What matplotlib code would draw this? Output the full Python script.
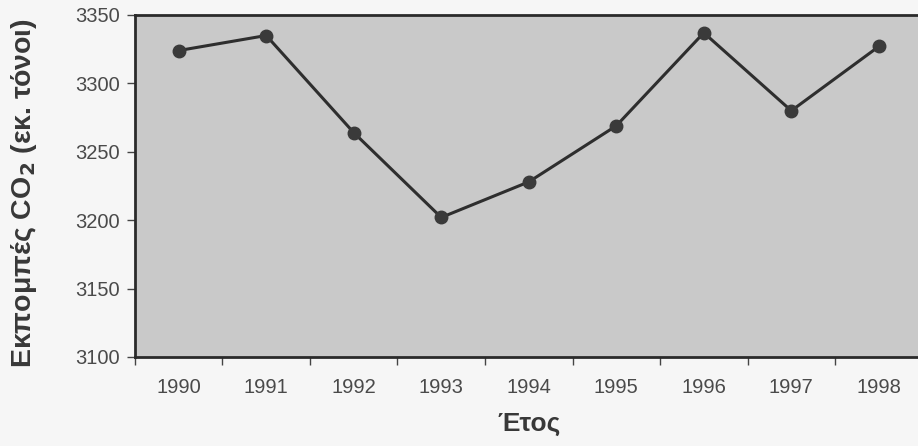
import numpy as np
import matplotlib.pyplot as plt

plt.rcParams["font.family"] = ["Liberation Sans", "DejaVu Sans"]

years = ["1990", "1991", "1992", "1993", "1994", "1995", "1996", "1997", "1998"]
co2 = [3324, 3335, 3264, 3202, 3228, 3269, 3337, 3280, 3327]   # million tonnes

fig = plt.figure(figsize=(9.18, 4.46), dpi=100, facecolor="#f6f6f6")
ax = fig.add_axes([0.147, 0.1996, 0.858, 0.7668])
ax.set_facecolor("#c9c9c9")

x = np.arange(len(years))
ax.plot(x, co2, color="#2e2e2e", lw=2.2, marker="o", ms=9,
        mfc="#3a3a3a", mec="#3a3a3a", zorder=3)

ax.set_xlim(-0.5, len(years) - 0.5)
ax.set_ylim(3100, 3350)
ax.set_yticks(np.arange(3100, 3351, 50))

# category labels centred, tick marks on the boundaries
ax.set_xticks(x)
ax.set_xticklabels(years)
ax.set_xticks(np.arange(-0.5, len(years), 1), minor=True)
ax.tick_params(axis="x", which="major", length=0, pad=15,
               labelsize=14.5, labelcolor="#4a4a4a")
ax.tick_params(axis="x", which="minor", length=6, width=1, color="#444444",
               direction="out")
ax.tick_params(axis="y", length=6, width=1, color="#444444", pad=5,
               labelsize=14.5, labelcolor="#4a4a4a")

for side in ["left", "bottom", "top"]:
    ax.spines[side].set_linewidth(2)
    ax.spines[side].set_color("#2a2a2a")
ax.spines["right"].set_visible(False)

ax.set_ylabel("Εκπομπές CO$_\\mathbf{2}$ (εκ. τόνοι)", fontsize=20.5,
              fontweight="bold", color="#383838")
ax.yaxis.set_label_coords(-0.122, 0.48)
ax.set_xlabel("Έτος", fontsize=19, fontweight="bold", color="#383838")
ax.xaxis.set_label_coords(0.5, -0.16)

fig.savefig("out.png", dpi=100, facecolor=fig.get_facecolor())
